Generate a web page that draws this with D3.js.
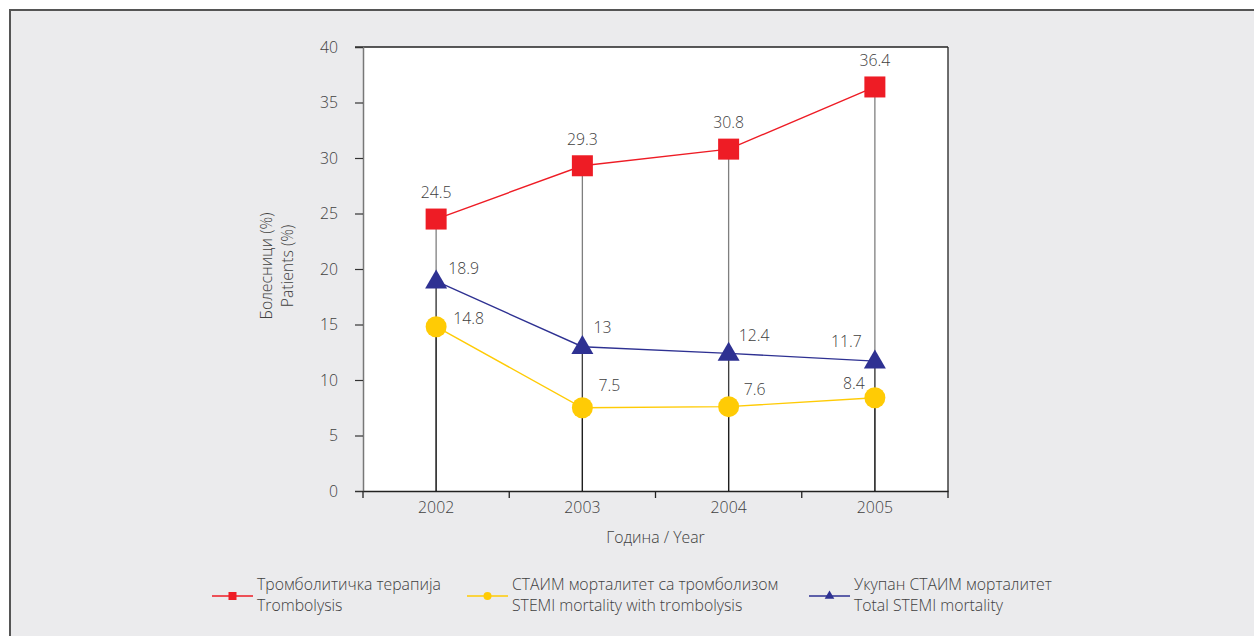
<!DOCTYPE html>
<html><head><meta charset="utf-8">
<script src="https://cdn.jsdelivr.net/npm/d3@7"></script>
<style>
html,body{margin:0;padding:0;background:#fff;}
svg{display:block;}
svg text{font-family:"Open Sans","Noto Sans",sans-serif;font-weight:300;}
</style></head>
<body><svg id="c" width="1254" height="636"></svg>
<script>
const years = ["2002","2003","2004","2005"];
const thrombolysis = [24.5, 29.3, 30.8, 36.4];
const stemiWithThromb = [14.8, 7.5, 7.6, 8.4];
const totalStemi = [18.9, 13, 12.4, 11.7];
const yTicks = [0,5,10,15,20,25,30,35,40];
const seriesNames = [
  ["Тромболитичка терапија","Trombolysis"],
  ["СТАИМ морталитет са тромболизом","STEMI mortality with trombolysis"],
  ["Укупан СТАИМ морталитет","Total STEMI mortality"]
];
const colors = ["#ee1c25","#ffcb05","#2e3192"];

const svg = d3.select("#c");
svg.append("rect").attr("x",0).attr("y",0).attr("width",1254).attr("height",636).attr("fill","#fff");
svg.append("rect").attr("x",10).attr("y",10).attr("width",1260).attr("height",640)
  .attr("fill","#ebebed").attr("stroke","#555").attr("stroke-width",2);

const L=363, R=948, T=47, B=491;
const x = d3.scaleBand().domain(years).range([L,R]);
const y = d3.scaleLinear().domain([0,40]).range([B,T]);
const txt = "#404040";
const fs = 15.8;

svg.append("rect").attr("x",L).attr("y",T).attr("width",R-L).attr("height",B-T).attr("fill","#fff");
svg.append("line").attr("x1",L-8).attr("x2",R).attr("y1",T).attr("y2",T).attr("stroke","#222").attr("stroke-width",1.3);
svg.append("line").attr("x1",R).attr("x2",R).attr("y1",T).attr("y2",B).attr("stroke","#222").attr("stroke-width",1.3);

// y axis
const ya = svg.append("g").attr("transform",`translate(${L},0)`)
  .call(d3.axisLeft(y).tickValues(yTicks).tickSize(8).tickPadding(17).tickFormat(d3.format("d")));
ya.attr("font-family",null).attr("font-size",null);
ya.select(".domain").attr("stroke","#777").attr("stroke-width",1.5);
ya.selectAll(".tick line").attr("stroke","#333").attr("stroke-width",1.2);
ya.selectAll("text").attr("fill",txt).attr("font-size",fs).attr("dy","0.34em");

// x axis
const xa = svg.append("g").attr("transform",`translate(0,${B})`)
  .call(d3.axisBottom(x).tickSize(0).tickPadding(10));
xa.attr("font-family",null).attr("font-size",null);
xa.select(".domain").attr("stroke","#222").attr("stroke-width",1.3);
xa.selectAll("text").attr("fill",txt).attr("font-size",fs).attr("dy","0.78em");
const bounds = years.map(d=>x(d)).concat([R]);
svg.append("g").selectAll("line").data(bounds).join("line")
  .attr("x1",d=>d).attr("x2",d=>d).attr("y1",B).attr("y2",B+7)
  .attr("stroke","#222").attr("stroke-width",1.3);

const cx = d=>x(d)+x.bandwidth()/2;
const all = [thrombolysis, stemiWithThromb, totalStemi];

// drop lines
all.forEach(s=>{
  svg.append("g").selectAll("line").data(years).join("line")
    .attr("x1",d=>cx(d)).attr("x2",d=>cx(d))
    .attr("y1",(d,i)=>y(s[i])).attr("y2",B)
    .attr("stroke","#000").attr("stroke-opacity",0.5).attr("stroke-width",1.3);
});

const line = d3.line().x((d,i)=>cx(years[i])).y(d=>y(d));
all.forEach((s,k)=>{
  svg.append("path").datum(s).attr("d",line).attr("fill","none")
    .attr("stroke",colors[k]).attr("stroke-width",1.4);
});

// markers
svg.append("g").selectAll("rect").data(thrombolysis).join("rect")
  .attr("x",(d,i)=>cx(years[i])-10.5).attr("y",d=>y(d)-10.5)
  .attr("width",21).attr("height",21).attr("fill",colors[0]);
svg.append("g").selectAll("circle").data(stemiWithThromb).join("circle")
  .attr("cx",(d,i)=>cx(years[i])).attr("cy",d=>y(d)).attr("r",10.5).attr("fill",colors[1]);
const tri = d3.symbol().type(d3.symbolTriangle).size(210);
svg.append("g").selectAll("path").data(totalStemi).join("path")
  .attr("d",tri).attr("transform",(d,i)=>`translate(${cx(years[i])},${y(d)+1})`).attr("fill",colors[2]);

// labels
const fmt = d=>String(d);
svg.append("g").selectAll("text").data(thrombolysis).join("text")
  .attr("x",(d,i)=>cx(years[i])).attr("y",d=>y(d)-21)
  .attr("text-anchor","middle").attr("fill",txt).attr("font-size",fs).text(fmt);
const blueOff = [[12,-7],[11,-14],[10,-12],[-13,-14]];
svg.append("g").selectAll("text").data(totalStemi).join("text")
  .attr("x",(d,i)=>cx(years[i])+blueOff[i][0]).attr("y",(d,i)=>y(d)+blueOff[i][1])
  .attr("text-anchor",(d,i)=>i==3?"end":"start").attr("fill",txt).attr("font-size",fs).text(fmt);
const yelOff = [[17,-3],[16,-17],[15,-12],[-10,-9]];
svg.append("g").selectAll("text").data(stemiWithThromb).join("text")
  .attr("x",(d,i)=>cx(years[i])+yelOff[i][0]).attr("y",(d,i)=>y(d)+yelOff[i][1])
  .attr("text-anchor",(d,i)=>i==3?"end":"start").attr("fill",txt).attr("font-size",fs).text(fmt);

// axis titles
svg.append("text").attr("x",(L+R)/2).attr("y",543).attr("text-anchor","middle")
  .attr("fill",txt).attr("font-size",fs).text("Година / Year");
const yt = svg.append("text").attr("transform","translate(272,266) rotate(-90)")
  .attr("text-anchor","middle").attr("fill",txt).attr("font-size",fs);
yt.append("tspan").attr("x",0).attr("dy",0).text("Болесници (%)");
yt.append("tspan").attr("x",0).attr("dy",21).text("Patients (%)");

// legend
const legX = [212, 467, 809];
const legY = 596;
legX.forEach((lx,k)=>{
  const g = svg.append("g").attr("transform",`translate(${lx},${legY})`);
  g.append("line").attr("x1",0).attr("x2",41).attr("y1",0).attr("y2",0).attr("stroke",colors[k]).attr("stroke-width",1.5);
  if(k==0) g.append("rect").attr("x",16.5).attr("y",-4).attr("width",8).attr("height",8).attr("fill",colors[0]);
  if(k==1) g.append("circle").attr("cx",20.5).attr("cy",0).attr("r",4).attr("fill",colors[1]);
  if(k==2) g.append("path").attr("d",d3.symbol().type(d3.symbolTriangle).size(40)).attr("transform","translate(20.5,0)").attr("fill",colors[2]);
  const t = g.append("text").attr("x",45).attr("y",-6).attr("fill",txt).attr("font-size",fs);
  t.append("tspan").attr("x",45).text(seriesNames[k][0]);
  t.append("tspan").attr("x",45).attr("dy",21).text(seriesNames[k][1]);
});
</script></body></html>
